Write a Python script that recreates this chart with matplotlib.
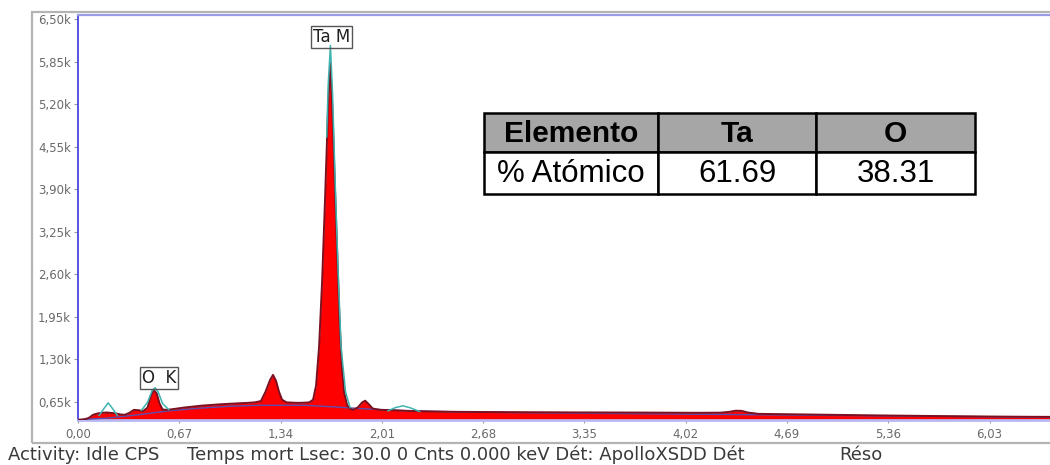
"""EDS spectrum of a tantalum oxide film with the quantification table."""
import matplotlib

matplotlib.use("Agg")

import matplotlib.pyplot as plt
from matplotlib.patches import Rectangle

# measured spectrum (keV, counts)
energy = [
    0.00, 0.04, 0.07, 0.10, 0.13, 0.16, 0.19, 0.22, 0.25, 0.28, 0.31, 0.34,
    0.37, 0.40, 0.43, 0.46, 0.48, 0.50, 0.52, 0.54, 0.56, 0.59, 0.64, 0.70,
    0.76, 0.82, 0.88, 0.94, 1.00, 1.06, 1.12, 1.17, 1.21, 1.24, 1.27, 1.29,
    1.31, 1.33, 1.35, 1.38, 1.42, 1.46, 1.50, 1.53, 1.555, 1.575, 1.595,
    1.615, 1.635, 1.655, 1.67, 1.685, 1.70, 1.715, 1.73, 1.745, 1.76, 1.78,
    1.80, 1.82, 1.85, 1.88, 1.90, 1.92, 1.95, 2.00, 2.06, 2.12, 2.18, 2.25,
    2.35, 2.50, 2.70, 2.90, 3.10, 3.30, 3.50, 3.70, 3.90, 4.10, 4.25, 4.31,
    4.35, 4.39, 4.43, 4.50, 4.70, 4.90, 5.10, 5.30, 5.50, 5.70, 5.90, 6.10,
    6.30, 6.43,
]
counts = [
    372, 380, 400, 450, 470, 480, 485, 478, 470, 455, 450, 480,
    525, 520, 505, 560, 720, 830, 780, 620, 530, 525, 540, 560,
    575, 590, 600, 610, 618, 625, 632, 640, 660, 800, 980, 1060,
    970, 800, 680, 640, 635, 632, 635, 640, 680, 900, 1500,
    2500, 3800, 5200, 5830, 5000, 3900, 2900, 1900, 1200, 800, 600,
    540, 525, 560, 640, 665, 620, 545, 525, 522, 515, 510, 505,
    500, 495, 492, 490, 488, 486, 485, 484, 482, 480, 482, 495,
    512, 510, 485, 464, 458, 452, 446, 440, 435, 430, 426, 422,
    419, 418,
]

# continuum (bremsstrahlung) fit
bg_energy = [0.0, 0.2, 0.4, 0.6, 0.8, 1.0, 1.2, 1.5, 1.7, 1.9, 2.2, 2.6,
             3.0, 3.5, 4.0, 4.5, 5.0, 5.5, 6.0, 6.43]
bg_counts = [375, 400, 450, 510, 550, 580, 595, 595, 570, 540, 510, 490,
             480, 470, 460, 450, 440, 430, 420, 412]

# fitted peak profiles
fit_segments = [
    ([0.14, 0.17, 0.20, 0.23, 0.26], [440, 540, 633, 540, 440]),
    ([0.42, 0.46, 0.49, 0.51, 0.53, 0.56, 0.60], [520, 640, 820, 862, 800, 620, 530]),
    ([1.645, 1.655, 1.67, 1.685, 1.70, 1.72, 1.74, 1.77, 1.80],
     [4700, 5500, 6100, 5300, 4100, 2700, 1500, 800, 560]),
    ([2.05, 2.10, 2.15, 2.20, 2.26], [510, 560, 587, 555, 500]),
]

peak_labels = ["Ta M", "O  K"]
peak_label_pos = [(1.677, 6236), (0.536, 1015)]

x_ticks = [0.00, 0.67, 1.34, 2.01, 2.68, 3.35, 4.02, 4.69, 5.36, 6.03]
y_ticks = [650, 1300, 1950, 2600, 3250, 3900, 4550, 5200, 5850, 6500]

table_header = ["Elemento", "Ta", "O"]
table_row = ["% Atómico", "61.69", "38.31"]

footer_parts = [
    "Activity: Idle CPS",
    "Temps mort Lsec: 30.0 0 Cnts 0.000 keV Dét: ApolloXSDD Dét",
    "Réso",
]

W, H = 1050, 465


def fx(px):
    return px / W


def fy(py):
    return 1 - py / H


def main() -> None:
    fig = plt.figure(figsize=(W / 100, H / 100), dpi=100)

    # grey outer frame of the acquisition window
    fig.add_artist(Rectangle((fx(32), fy(443)), 1.2, (443 - 12) / H,
                             transform=fig.transFigure, fill=False,
                             edgecolor="#b4b4b4", lw=1.6))

    ax = fig.add_axes([fx(78), fy(420), (W - 78) / W, (420 - 15) / H])
    ax.set_xlim(0, 6.43)
    ax.set_ylim(370, 6565)

    ax.fill_between(energy, 370, counts, color="#ff0000", lw=0, zorder=2)
    ax.plot(bg_energy, bg_counts, color="#5a4fb0", lw=1.0, zorder=3)
    ax.plot(energy, counts, color="#7a1020", lw=1.4, zorder=4)
    for xs, ys in fit_segments:
        ax.plot(xs, ys, color="#3fb3b0", lw=1.1, zorder=5)

    for text, (x, y) in zip(peak_labels, peak_label_pos):
        ax.text(x, y, text, ha="center", va="center", fontsize=12,
                color="#202020", zorder=6,
                bbox=dict(boxstyle="square,pad=0.12", fc="none",
                          ec="#555555", lw=1.0))

    ax.spines["right"].set_visible(False)
    ax.spines["left"].set_color("#4646e0")
    ax.spines["left"].set_linewidth(1.3)
    ax.spines["top"].set_color("#9a9ae6")
    ax.spines["top"].set_linewidth(1.6)
    ax.spines["bottom"].set_color("#b8b8f2")
    ax.spines["bottom"].set_linewidth(2.0)

    ax.set_xticks(x_ticks)
    ax.set_xticklabels([f"{v:.2f}".replace(".", ",") for v in x_ticks])
    ax.set_yticks(y_ticks)
    ax.set_yticklabels([f"{v / 1000:.2f}k".replace(".", ",") for v in y_ticks])
    ax.tick_params(axis="both", labelsize=8.5, labelcolor="#6a6a6a",
                   color="#9a9a9a", length=3, width=0.8, pad=2)
    ax.tick_params(axis="x", length=2, pad=4)

    # quantification table
    cols = [484, 658, 816, 975]
    rows = [113, 152, 194]
    for i in range(3):
        x0, x1 = cols[i], cols[i + 1]
        fig.add_artist(Rectangle((fx(x0), fy(rows[1])), (x1 - x0) / W,
                                 (rows[1] - rows[0]) / H,
                                 transform=fig.transFigure, fc="#a6a6a6",
                                 ec="black", lw=1.8, zorder=10))
        fig.add_artist(Rectangle((fx(x0), fy(rows[2])), (x1 - x0) / W,
                                 (rows[2] - rows[1]) / H,
                                 transform=fig.transFigure, fc="white",
                                 ec="black", lw=1.8, zorder=10))
        xc = fx((x0 + x1) / 2)
        fig.text(xc, fy((rows[0] + rows[1]) / 2 + 1), table_header[i],
                 ha="center", va="center", fontsize=21.5, fontweight="bold",
                 family="Liberation Sans", zorder=11)
        fig.text(xc, fy((rows[1] + rows[2]) / 2 + 1), table_row[i],
                 ha="center", va="center", fontsize=22.5,
                 family="Liberation Sans", zorder=11)

    for text, x in zip(footer_parts, [8, 187, 839]):
        fig.text(fx(x), fy(455), text, ha="left", va="center",
                 fontsize=13, color="#3a3a3a", family="DejaVu Sans")

    fig.savefig("out.png", dpi=100)
    plt.close(fig)


if __name__ == "__main__":
    main()
